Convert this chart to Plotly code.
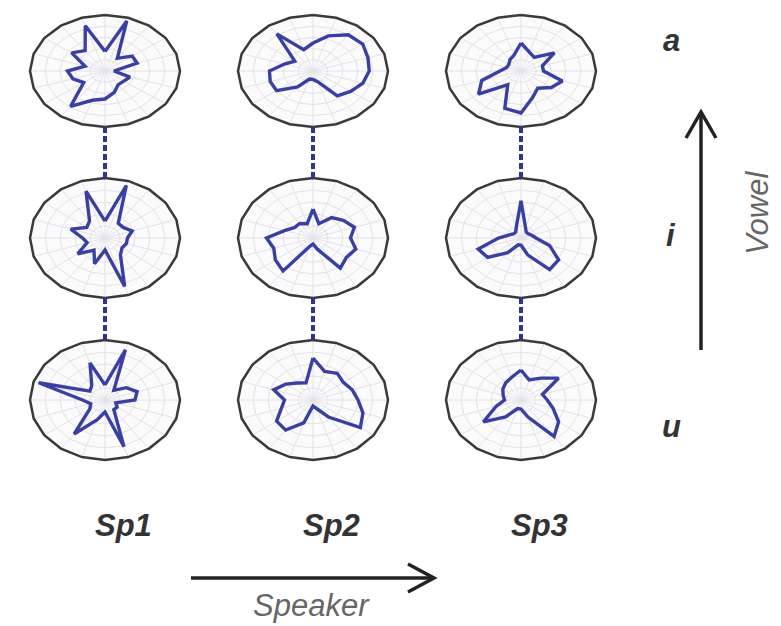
import numpy as np
import plotly.graph_objects as go

speakers = ["Sp1", "Sp2", "Sp3"]
vowels = ["a", "i", "u"]

# radar values on 20 axes, clockwise from the top, 1.0 = outer ring
sp1_a = [0.35, 0.94, 0.28, 0.45, 0.45, 0.12, 0.35, 0.30, 0.30, 0.40,
         0.50, 0.55, 0.78, 0.35, 0.45, 0.50, 0.28, 0.55, 0.45, 0.85]
sp2_a = [0.50, 0.66, 0.80, 0.82, 0.77, 0.75, 0.70, 0.62, 0.55, 0.20,
         0.15, 0.15, 0.35, 0.60, 0.60, 0.58, 0.40, 0.30, 0.82, 0.40]
sp3_a = [0.50, 0.35, 0.30, 0.55, 0.30, 0.30, 0.58, 0.50, 0.38, 0.50,
         0.75, 0.70, 0.30, 0.70, 0.55, 0.28, 0.20, 0.20, 0.25, 0.30]
sp1_i = [0.28, 0.92, 0.30, 0.30, 0.38, 0.30, 0.30, 0.28, 0.35, 0.85,
         0.20, 0.45, 0.25, 0.45, 0.25, 0.30, 0.48, 0.30, 0.35, 0.82]
sp2_i = [0.48, 0.25, 0.42, 0.50, 0.58, 0.50, 0.60, 0.55, 0.62, 0.20,
         0.10, 0.15, 0.68, 0.62, 0.55, 0.62, 0.40, 0.30, 0.30, 0.25]
sp3_i = [0.62, 0.20, 0.12, 0.12, 0.15, 0.20, 0.40, 0.62, 0.65, 0.30,
         0.12, 0.12, 0.30, 0.55, 0.60, 0.30, 0.15, 0.12, 0.12, 0.20]
sp1_u = [0.25, 0.88, 0.20, 0.35, 0.45, 0.40, 0.15, 0.20, 0.20, 0.82,
         0.20, 0.35, 0.70, 0.25, 0.20, 0.30, 0.93, 0.25, 0.30, 0.65]
sp2_u = [0.70, 0.50, 0.55, 0.50, 0.55, 0.60, 0.70, 0.78, 0.35, 0.15,
         0.10, 0.40, 0.62, 0.60, 0.45, 0.38, 0.55, 0.45, 0.35, 0.30]
sp3_u = [0.50, 0.35, 0.45, 0.62, 0.30, 0.35, 0.45, 0.62, 0.75, 0.30,
         0.15, 0.15, 0.35, 0.62, 0.35, 0.22, 0.25, 0.30, 0.35, 0.40]

profiles = [[sp1_a, sp2_a, sp3_a],
            [sp1_i, sp2_i, sp3_i],
            [sp1_u, sp2_u, sp3_u]]
rings = [0.2, 0.4, 0.6, 0.8]

W, H = 781, 626
col_x = [97, 305, 513]
row_y = [63, 230, 392]
half_w = 75
half_h = [56, 60, 60]
pad = 1.05

BLUE = "#3a40a2"
FONT = "Liberation Sans, Arial, sans-serif"

n = len(sp1_a)
theta = np.deg2rad(np.arange(n) * 360.0 / n)


def px(x):
    return x / W


def py(y):
    return 1 - y / H


def closed(r):
    r = np.append(np.asarray(r, float), r[0])
    t = np.append(theta, theta[0])
    return r * np.sin(t), r * np.cos(t)


fig = go.Figure()
layout = {}

for i, row in enumerate(profiles):
    for j, vals in enumerate(row):
        k = i * 3 + j + 1
        xa, ya = f"x{k}", f"y{k}"
        cx, cy, hh = col_x[j], row_y[i], half_h[i]
        layout[f"xaxis{k}"] = dict(domain=[px(cx - half_w * pad), px(cx + half_w * pad)],
                                   range=[-pad, pad], visible=False, fixedrange=True)
        layout[f"yaxis{k}"] = dict(domain=[py(cy + hh * pad), py(cy - hh * pad)],
                                   range=[-pad, pad], visible=False, fixedrange=True)

        # background disc
        ox, oy = closed(np.ones(n))
        fig.add_trace(go.Scatter(x=ox, y=oy, xaxis=xa, yaxis=ya, mode="lines",
                                 fill="toself", fillcolor="#fbfbfd",
                                 line=dict(width=0), hoverinfo="skip"))
        # grid rings + spokes
        gx, gy = [], []
        for rr in rings:
            a, b = closed(np.full(n, rr))
            gx += list(a) + [None]
            gy += list(b) + [None]
        fig.add_trace(go.Scatter(x=gx, y=gy, xaxis=xa, yaxis=ya, mode="lines",
                                 line=dict(color="#e6e2d8", width=1), hoverinfo="skip"))
        sx, sy = [], []
        for t in theta:
            sx += [0, np.sin(t), None]
            sy += [0, np.cos(t), None]
        fig.add_trace(go.Scatter(x=sx, y=sy, xaxis=xa, yaxis=ya, mode="lines",
                                 line=dict(color="#e2e2e8", width=1), hoverinfo="skip"))
        # profile
        vx, vy = closed(vals)
        fig.add_trace(go.Scatter(x=vx, y=vy, xaxis=xa, yaxis=ya, mode="lines",
                                 line=dict(color=BLUE, width=3.4),
                                 name=f"{speakers[j]} /{vowels[i]}/"))
        # outer ring
        fig.add_trace(go.Scatter(x=ox, y=oy, xaxis=xa, yaxis=ya, mode="lines",
                                 line=dict(color="#3a3a3a", width=2.5), hoverinfo="skip"))

shapes = []
# dashed links between vowels of one speaker
for j, cx in enumerate(col_x):
    for i in range(2):
        shapes.append(dict(type="line", xref="paper", yref="paper",
                           x0=px(cx), x1=px(cx),
                           y0=py(row_y[i] + half_h[i]), y1=py(row_y[i + 1] - half_h[i + 1]),
                           line=dict(color="#2d3591", width=4, dash="6px,3px")))


def arrow(x0, y0, x1, y1, ax, ay, bx, by):
    shapes.append(dict(type="path", xref="paper", yref="paper",
                       path=f"M {px(x0)} {py(y0)} L {px(x1)} {py(y1)}",
                       line=dict(color="#222", width=3.5)))
    shapes.append(dict(type="path", xref="paper", yref="paper",
                       path=f"M {px(ax)} {py(ay)} L {px(x1)} {py(y1)} L {px(bx)} {py(by)}",
                       line=dict(color="#222", width=3.5)))


arrow(183, 570, 426, 570, 400, 556, 400, 584)
arrow(693, 342, 693, 104, 678, 130, 708, 130)

ann = []
for j, s in enumerate(speakers):
    ann.append(dict(x=px(col_x[j] + 18), y=py(517), text=f"<b><i>{s}</i></b>",
                    font=dict(size=31, color="#333")))
for i, v in enumerate(vowels):
    ann.append(dict(x=px(663), y=py([33, 227, 418][i]), text=f"<b><i>{v}</i></b>",
                    font=dict(size=31, color="#333")))
ann.append(dict(x=px(303), y=py(597), text="<i>Speaker</i>",
                font=dict(size=31, color="#666")))
ann.append(dict(x=px(749), y=py(205), text="<i>Vowel</i>", textangle=-90,
                font=dict(size=31, color="#666")))
for a in ann:
    a.update(xref="paper", yref="paper", showarrow=False,
             xanchor="center", yanchor="middle")

fig.update_layout(width=W, height=H, margin=dict(l=0, r=0, t=0, b=0),
                  paper_bgcolor="white", plot_bgcolor="rgba(0,0,0,0)",
                  showlegend=False, font=dict(family=FONT),
                  shapes=shapes, annotations=ann, **layout)

fig.write_html("out.html")
